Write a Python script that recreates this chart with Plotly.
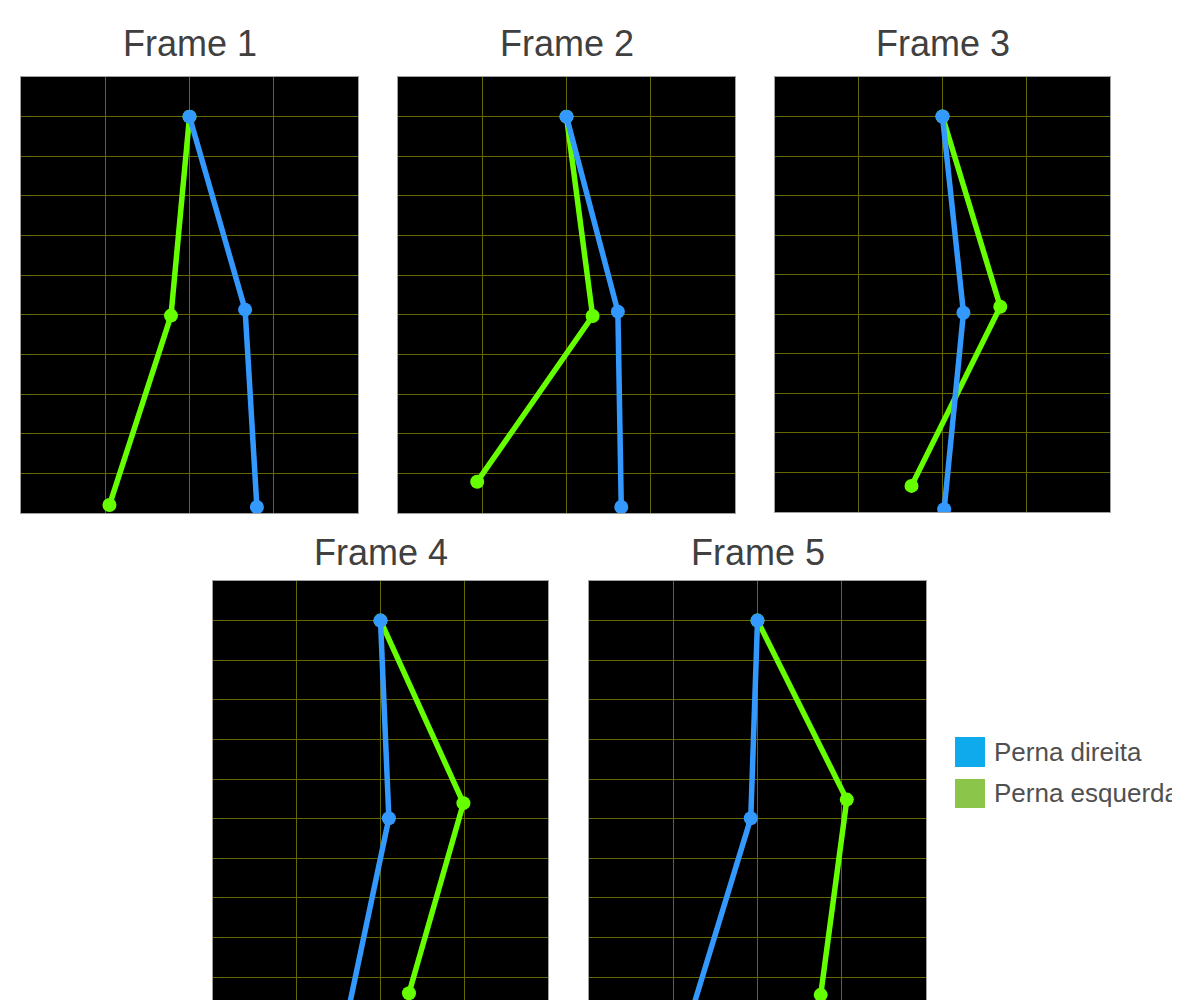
import plotly.graph_objects as go

# ---------------- data ----------------
frames = ["Frame 1", "Frame 2", "Frame 3", "Frame 4", "Frame 5"]
legend_labels = ["Perna direita", "Perna esquerda"]

# right leg (blue): hip, knee, foot
right_x = [
    [2.00, 2.66, 2.80],
    [2.00, 2.61, 2.65],
    [2.00, 2.25, 2.02],
    [2.00, 2.10, 1.62],
    [2.00, 1.92, 1.23],
]
right_y = [
    [10.0, 5.13, 0.15],
    [10.0, 5.08, 0.15],
    [10.0, 5.04, 0.07],
    [10.0, 5.01, 0.20],
    [10.0, 5.01, 0.20],
]
# left leg (green): hip, knee, foot
left_x = [
    [2.00, 1.78, 1.05],
    [2.00, 2.31, 0.94],
    [2.00, 2.69, 1.63],
    [2.00, 2.99, 2.34],
    [2.00, 3.06, 2.75],
]
left_y = [
    [10.0, 4.98, 0.20],
    [10.0, 4.97, 0.79],
    [10.0, 5.19, 0.66],
    [10.0, 5.39, 0.59],
    [10.0, 5.48, 0.55],
]

# ---------------- styling / layout ----------------
OFF = 8                      # default page body margin
W, H = 1180 - OFF, 1000 - OFF
BLUE_LINE = "#3399FF"
GREEN_LINE = "#66FF00"
BLUE_KEY = "#0EAAEC"
GREEN_KEY = "#8BC64A"
GRID = "#666600"
FONT = "Liberation Sans, Arial, sans-serif"


def px_x(p):
    return (p - OFF) / W


def px_y(p):
    return 1 - (p - OFF) / H


# panel rectangles in page pixels: (left, right, top, bottom)
panels = [
    (21, 358, 77, 513),
    (398, 735, 77, 513),
    (775, 1110, 77, 512),
    (213, 548, 581, 1000),
    (589, 926, 581, 1000),
]
y_ranges = [[0, 11], [0, 11], [0, 11], [0.42, 11], [0.42, 11]]
title_y_px = [44, 44, 44, 552, 552]

fig = go.Figure()
layout = dict(
    width=W, height=H,
    margin=dict(l=0, r=0, t=0, b=0),
    paper_bgcolor="white",
    plot_bgcolor="black",
    showlegend=False,
    font=dict(family=FONT),
)

annotations = []
for i, name in enumerate(frames):
    k = "" if i == 0 else str(i + 1)
    xa, ya = "x" + k, "y" + k
    l, r, t, b = panels[i]
    layout["xaxis" + k] = dict(
        domain=[max(0, px_x(l)), min(1, px_x(r))], anchor=ya, range=[0, 4],
        tick0=0, dtick=1, showgrid=True, gridcolor=GRID, gridwidth=1.3,
        zeroline=False, showticklabels=False, ticks="", showline=True,
        linecolor="#a0a0a0", linewidth=1, mirror=True, fixedrange=True,
    )
    layout["yaxis" + k] = dict(
        domain=[max(0, px_y(b)), min(1, px_y(t))], anchor=xa,
        range=y_ranges[i], tick0=0, dtick=1, showgrid=True, gridcolor=GRID,
        gridwidth=1.3, zeroline=False, showticklabels=False, ticks="",
        showline=True, linecolor="#a0a0a0", linewidth=1, mirror=True,
        fixedrange=True,
    )
    fig.add_trace(go.Scatter(
        x=left_x[i], y=left_y[i], xaxis=xa, yaxis=ya, mode="lines+markers",
        name=legend_labels[1], line=dict(color=GREEN_LINE, width=5.5),
        marker=dict(color=GREEN_LINE, size=14), cliponaxis=True,
    ))
    fig.add_trace(go.Scatter(
        x=right_x[i], y=right_y[i], xaxis=xa, yaxis=ya, mode="lines+markers",
        name=legend_labels[0], line=dict(color=BLUE_LINE, width=5.5),
        marker=dict(color=BLUE_LINE, size=14), cliponaxis=True,
    ))
    annotations.append(dict(
        text=name, xref="paper", yref="paper", x=px_x((l + r) / 2),
        y=px_y(title_y_px[i]), xanchor="center", yanchor="middle",
        showarrow=False, font=dict(size=36, color="#404040", family=FONT),
    ))

# legend (drawn as keys + text)
shapes = []
key_rows = [(737, 767, BLUE_KEY, 752), (779, 808, GREEN_KEY, 793)]
for (top, bot, col, ty), lab in zip(key_rows, legend_labels):
    shapes.append(dict(
        type="rect", xref="paper", yref="paper", x0=px_x(955), x1=px_x(985),
        y0=px_y(bot), y1=px_y(top), fillcolor=col, line=dict(width=0),
    ))
    annotations.append(dict(
        text=lab, xref="paper", yref="paper", x=px_x(992), y=px_y(ty),
        xanchor="left", yanchor="middle", showarrow=False,
        font=dict(size=26, color="#505050", family=FONT),
    ))

layout["annotations"] = annotations
layout["shapes"] = shapes
fig.update_layout(**layout)
fig.write_html("out.html")
